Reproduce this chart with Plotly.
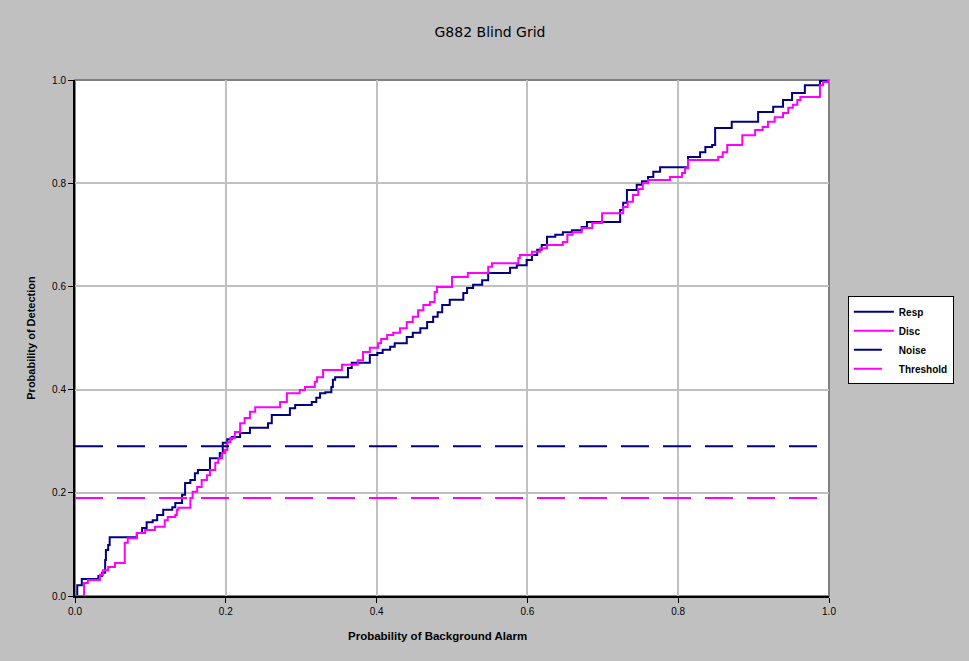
import plotly.graph_objects as go

# ROC data (Probability of Background Alarm vs Probability of Detection)
resp_pfa = [0.000, 0.003, 0.009, 0.031, 0.036, 0.040, 0.041, 0.044, 0.046, 0.082, 0.089, 0.095, 0.103, 0.109,
            0.117, 0.129, 0.133, 0.142, 0.146, 0.153, 0.159, 0.163, 0.179, 0.192, 0.196, 0.202, 0.208, 0.219,
            0.232, 0.256, 0.261, 0.285, 0.292, 0.314, 0.320, 0.325, 0.332, 0.340, 0.342, 0.345, 0.362, 0.367,
            0.391, 0.401, 0.408, 0.418, 0.424, 0.440, 0.448, 0.458, 0.467, 0.475, 0.481, 0.487, 0.497, 0.515,
            0.520, 0.528, 0.540, 0.548, 0.577, 0.586, 0.599, 0.606, 0.613, 0.619, 0.626, 0.637, 0.647, 0.659,
            0.672, 0.679, 0.723, 0.727, 0.732, 0.745, 0.752, 0.760, 0.767, 0.776, 0.813, 0.829, 0.836, 0.845,
            0.849, 0.871, 0.906, 0.926, 0.939, 0.951, 0.968, 0.988, 0.997]
resp_pd = [0.000, 0.021, 0.033, 0.039, 0.045, 0.070, 0.089, 0.099, 0.114, 0.122, 0.132, 0.143, 0.147, 0.157,
           0.167, 0.172, 0.180, 0.196, 0.219, 0.225, 0.238, 0.244, 0.267, 0.277, 0.297, 0.304, 0.308, 0.316,
           0.326, 0.335, 0.351, 0.364, 0.370, 0.376, 0.384, 0.393, 0.395, 0.405, 0.419, 0.424, 0.442, 0.452,
           0.467, 0.471, 0.477, 0.483, 0.490, 0.502, 0.510, 0.519, 0.531, 0.541, 0.550, 0.564, 0.574, 0.587,
           0.597, 0.603, 0.612, 0.626, 0.636, 0.641, 0.651, 0.661, 0.671, 0.680, 0.696, 0.700, 0.705, 0.709,
           0.715, 0.725, 0.748, 0.762, 0.787, 0.797, 0.804, 0.812, 0.822, 0.831, 0.851, 0.860, 0.870, 0.874,
           0.907, 0.919, 0.938, 0.948, 0.961, 0.975, 0.990, 0.998, 1.000]

disc_pfa = [0.000, 0.012, 0.017, 0.033, 0.037, 0.044, 0.053, 0.066, 0.070, 0.082, 0.093, 0.106, 0.119, 0.123,
            0.133, 0.135, 0.137, 0.153, 0.156, 0.162, 0.168, 0.175, 0.179, 0.186, 0.190, 0.195, 0.199, 0.202,
            0.206, 0.212, 0.219, 0.225, 0.232, 0.239, 0.272, 0.281, 0.298, 0.305, 0.318, 0.321, 0.329, 0.354,
            0.375, 0.382, 0.391, 0.402, 0.406, 0.414, 0.422, 0.431, 0.440, 0.448, 0.455, 0.462, 0.471, 0.477,
            0.480, 0.500, 0.521, 0.548, 0.553, 0.588, 0.590, 0.606, 0.617, 0.626, 0.647, 0.653, 0.660, 0.672,
            0.686, 0.699, 0.727, 0.733, 0.740, 0.747, 0.753, 0.760, 0.789, 0.805, 0.809, 0.813, 0.853, 0.859,
            0.865, 0.885, 0.902, 0.912, 0.919, 0.928, 0.939, 0.946, 0.952, 0.958, 0.962, 0.988, 0.992, 0.999]
disc_pd = [0.000, 0.025, 0.031, 0.041, 0.050, 0.056, 0.064, 0.103, 0.112, 0.122, 0.128, 0.134, 0.147, 0.153,
           0.157, 0.167, 0.171, 0.190, 0.202, 0.211, 0.225, 0.234, 0.244, 0.258, 0.267, 0.277, 0.283, 0.298,
           0.306, 0.318, 0.335, 0.345, 0.357, 0.366, 0.376, 0.393, 0.399, 0.405, 0.415, 0.424, 0.438, 0.448,
           0.457, 0.473, 0.481, 0.490, 0.498, 0.506, 0.510, 0.519, 0.531, 0.541, 0.554, 0.564, 0.570, 0.589,
           0.599, 0.618, 0.626, 0.638, 0.645, 0.655, 0.661, 0.667, 0.674, 0.680, 0.686, 0.700, 0.705, 0.713,
           0.723, 0.742, 0.754, 0.764, 0.777, 0.789, 0.800, 0.806, 0.812, 0.820, 0.829, 0.845, 0.851, 0.860,
           0.874, 0.893, 0.903, 0.909, 0.919, 0.928, 0.936, 0.946, 0.952, 0.961, 0.967, 0.990, 0.996, 1.000]

noise_level = 0.29
threshold_level = 0.19
line_x = [0.0, 1.0]

NAVY = "#000080"
MAGENTA = "#FF00FF"

fig = go.Figure()
fig.add_trace(go.Scatter(x=resp_pfa, y=resp_pd, mode="lines", name="Resp",
                         line=dict(color=NAVY, width=2, shape="hv")))
fig.add_trace(go.Scatter(x=disc_pfa, y=disc_pd, mode="lines", name="Disc",
                         line=dict(color=MAGENTA, width=2, shape="hv")))
fig.add_trace(go.Scatter(x=line_x, y=[noise_level, noise_level], mode="lines", name="Noise",
                         line=dict(color=NAVY, width=2, dash="28px,14px")))
fig.add_trace(go.Scatter(x=line_x, y=[threshold_level, threshold_level], mode="lines", name="Threshold",
                         line=dict(color=MAGENTA, width=2, dash="28px,14px")))

font_family = "Arial, Liberation Sans, sans-serif"
ticks = [0.0, 0.2, 0.4, 0.6, 0.8, 1.0]
tick_text = ["0.0", "0.2", "0.4", "0.6", "0.8", "1.0"]

axis_common = dict(range=[0, 1], tickvals=ticks, ticktext=tick_text, showgrid=True,
                   gridcolor="#c0c0c0", gridwidth=2, showline=True, linecolor="black",
                   linewidth=2, ticks="outside", ticklen=5, tickcolor="black", tickwidth=1,
                   zeroline=False, tickfont=dict(family=font_family, size=10, color="black"))

fig.update_layout(
    width=969, height=661,
    paper_bgcolor="#c0c0c0", plot_bgcolor="white",
    margin=dict(l=75, r=140, t=80, b=65),
    title=dict(text="G882 Blind Grid", x=490 / 969, xanchor="center",
               y=1 - 32 / 661, yanchor="middle",
               font=dict(family="DejaVu Sans, sans-serif", size=14, color="black")),
    xaxis=dict(**axis_common),
    yaxis=dict(**axis_common,
               title=dict(text="<b>Probability of Detection</b>", standoff=14,
                          font=dict(family=font_family, size=11, color="black"))),
    legend=dict(x=1.025, y=0.581, xanchor="left", yanchor="top",
                bgcolor="white", bordercolor="black", borderwidth=1,
                font=dict(family=font_family, size=10, color="black", weight="bold"),
                itemwidth=40, tracegroupgap=0),
    showlegend=True,
    annotations=[dict(text="<b>Probability of Background Alarm</b>", xref="paper", yref="paper",
                      x=(437 - 75) / 754, y=(596 - 636) / 516, xanchor="center", yanchor="middle",
                      showarrow=False, font=dict(family=font_family, size=11.5, color="black"))],
    shapes=[dict(type="rect", xref="paper", yref="paper", x0=0, y0=0, x1=1, y1=1,
                 line=dict(color="#808080", width=2), layer="below")],
)

fig.write_html("out.html", config={"displayModeBar": False},
               post_script="document.body.style.margin='0';document.body.style.overflow='hidden';")
